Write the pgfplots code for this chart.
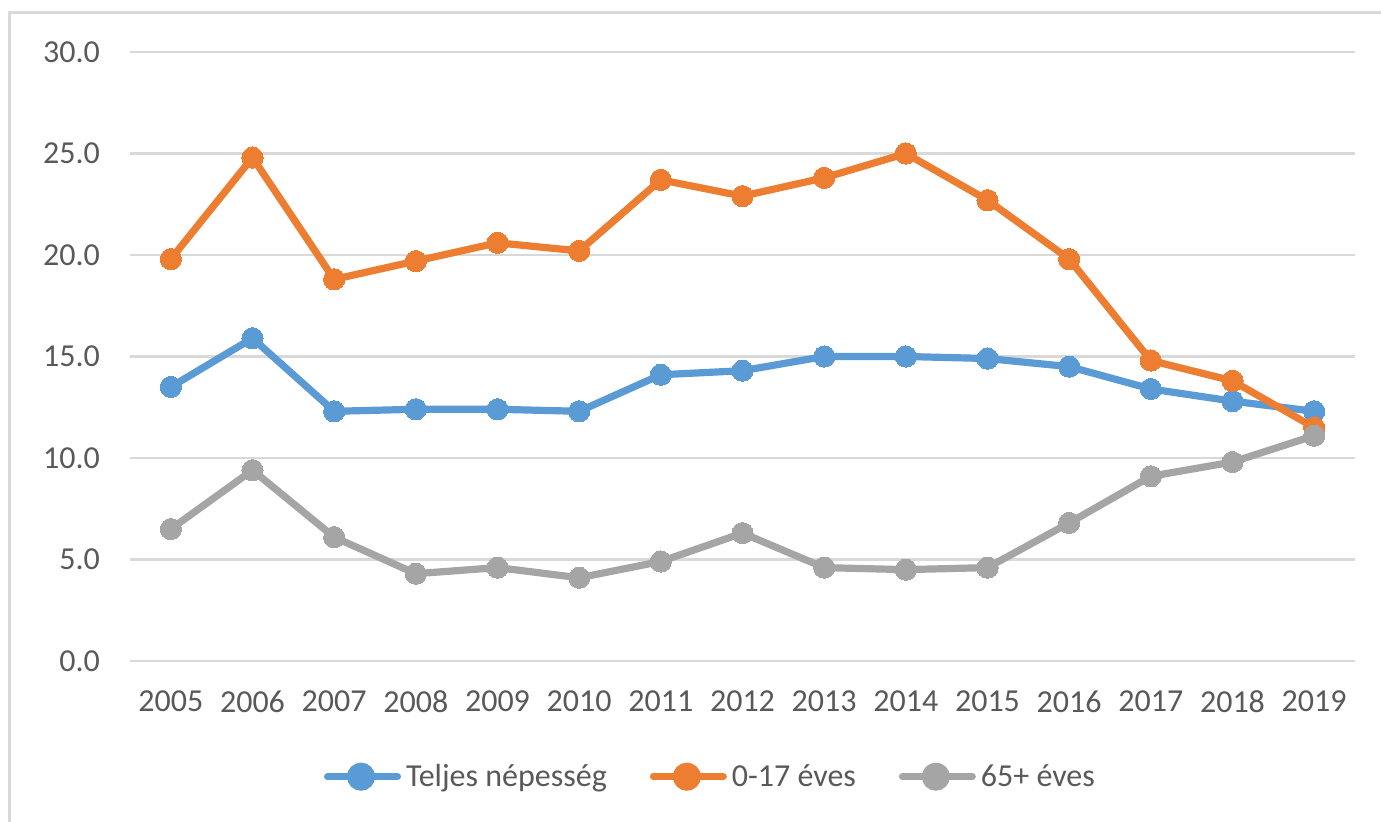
\documentclass[border=0pt]{standalone}
\usepackage{fontspec}
\setmainfont{Carlito}
\usepackage{pgfplots}
\pgfplotsset{compat=1.18}
\definecolor{cblue}{HTML}{5B9BD5}
\definecolor{corange}{HTML}{ED7D31}
\definecolor{cgray}{HTML}{A5A5A5}
\definecolor{cgrid}{HTML}{D9D9D9}
\definecolor{ctext}{HTML}{595959}
\begin{document}
\begin{tikzpicture}
\useasboundingbox (0pt,0pt) rectangle (690.5pt,411pt);
\fill[white] (0pt,0pt) rectangle (690.5pt,411pt);
\draw[cgrid, line width=1.5pt] (4.5pt,-2pt) -- (4.5pt,404.5pt) -- (700pt,404.5pt);
\begin{axis}[
  at={(65pt,80.5pt)}, anchor=south west,
  scale only axis, width=612.5pt, height=304.5pt,
  xmin=-0.5, xmax=14.5, ymin=0, ymax=30,
  xtick={0,...,14},
  xticklabels={2005,2006,2007,2008,2009,2010,2011,2012,2013,2014,2015,2016,2017,2018,2019},
  ytick={0,5,...,30},
  axis line style={draw=none},
  major tick length=0pt,
  ymajorgrids, grid style={cgrid, line width=1.4pt},
  tick label style={font=\fontsize{16}{19}\selectfont, text=ctext},
  /pgf/number format/assume math mode=true,
  yticklabel={\pgfmathprintnumber[fixed,fixed zerofill,precision=1]{\tick}},
  yticklabel style={xshift=-11.5pt},
  xticklabel style={yshift=-11.5pt},
  clip=false,
  legend columns=3,
  legend style={at={(0.473,-0.19)}, anchor=center, draw=none, fill=none,
    font=\fontsize{16}{19}\selectfont, text=ctext,
    nodes={inner xsep=0pt},
    /tikz/every odd column/.append style={column sep=2.5pt},
    /tikz/every even column/.append style={column sep=21.5pt}},
  legend image code/.code={%
    \draw[line width=3.5pt, line cap=round, mark=none] (1.75pt,0pt) -- (36.75pt,0pt);
    \fill (18.5pt,0pt) circle (5.2pt);},
  every axis plot/.append style={line width=3.6pt, mark=*, mark size=5.3pt},
]
\addplot[cblue, mark options={fill=cblue, draw=cblue, line width=0pt}] coordinates {
(0,13.5) (1,15.9) (2,12.3) (3,12.4) (4,12.4) (5,12.3) (6,14.1) (7,14.3) (8,15.0) (9,15.0) (10,14.9) (11,14.5) (12,13.4) (13,12.8) (14,12.3)};
\addlegendentry{Teljes népesség}
\addplot[corange, mark options={fill=corange, draw=corange, line width=0pt}] coordinates {
(0,19.8) (1,24.8) (2,18.8) (3,19.7) (4,20.6) (5,20.2) (6,23.7) (7,22.9) (8,23.8) (9,25.0) (10,22.7) (11,19.8) (12,14.8) (13,13.8) (14,11.5)};
\addlegendentry{0-17 éves}
\addplot[cgray, mark options={fill=cgray, draw=cgray, line width=0pt}] coordinates {
(0,6.5) (1,9.4) (2,6.1) (3,4.3) (4,4.6) (5,4.1) (6,4.9) (7,6.3) (8,4.6) (9,4.5) (10,4.6) (11,6.8) (12,9.1) (13,9.8) (14,11.1)};
\addlegendentry{65+ éves}
\end{axis}
\end{tikzpicture}
\end{document}
